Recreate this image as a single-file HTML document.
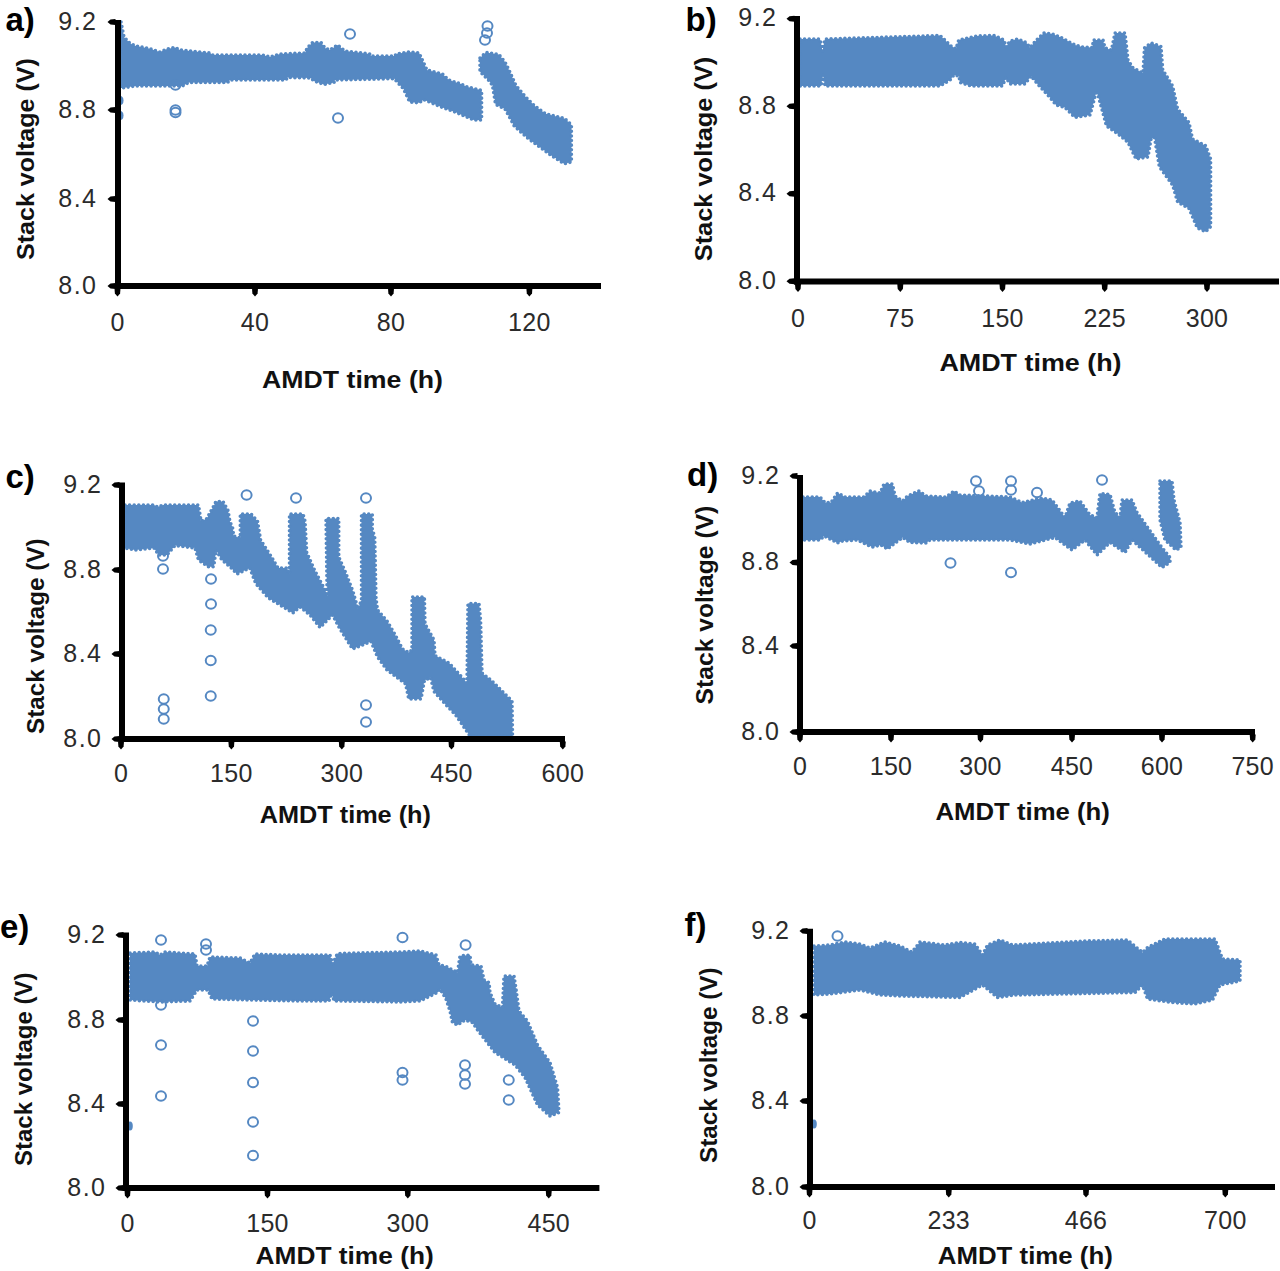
<!DOCTYPE html>
<html><head><meta charset="utf-8"><title>Stack voltage vs AMDT time</title>
<style>
html,body{margin:0;padding:0;background:#fff;overflow:hidden;}
svg{display:block;}
text{font-family:"Liberation Sans",sans-serif;}
.tl{font-size:25px;fill:#2b2b2b;}
.tt{font-size:24.5px;font-weight:bold;fill:#111;}
.pl{font-size:33px;font-weight:bold;fill:#000;}
</style></head><body>
<svg width="1280" height="1271" viewBox="0 0 1280 1271">
<rect width="1280" height="1271" fill="#fff"/>
<g>
<path d="M121 22 L124 37 L130 43.5 L136 46 L149 48.5 L160 52 L167 49 L175 47.5 L180 50 L210 53 L212.5 55 L262.5 55 L270 57 L280 54 L305 53 L307.5 47.5 L312.5 42.5 L321 42.5 L325 48 L330 50 L337.5 45 L345 51 L370 54 L371 56 L395 56 L396 54 L408 52 L419 52.8 L427 70 L442.5 74 L448.75 80 L461 84 L467.5 87 L481.6 90.3 L481.6 120 L473.75 120 L455 112 L442.5 107.5 L423.75 99.7 L419 102.8 L409.7 102 L403.4 88.75 L394 78.6 L380 79 L335 80 L334 82.5 L324 84.4 L314 81 L311 78 L287.5 77.5 L286 80 L230 80 L227.5 82.5 L188.75 82.5 L182.5 86 L165 86 L135 86 L122.5 88 L121 88 Z" fill="#5588C2"/>
<path d="M121 22 L124 37 L130 43.5 L136 46 L149 48.5 L160 52 L167 49 L175 47.5 L180 50 L210 53 L212.5 55 L262.5 55 L270 57 L280 54 L305 53 L307.5 47.5 L312.5 42.5 L321 42.5 L325 48 L330 50 L337.5 45 L345 51 L370 54 L371 56 L395 56 L396 54 L408 52 L419 52.8 L427 70 L442.5 74 L448.75 80 L461 84 L467.5 87 L481.6 90.3 L481.6 120 L473.75 120 L455 112 L442.5 107.5 L423.75 99.7 L419 102.8 L409.7 102 L403.4 88.75 L394 78.6 L380 79 L335 80 L334 82.5 L324 84.4 L314 81 L311 78 L287.5 77.5 L286 80 L230 80 L227.5 82.5 L188.75 82.5 L182.5 86 L165 86 L135 86 L122.5 88 L121 88 Z" fill="none" stroke="#5588C2" stroke-width="3.6" stroke-dasharray="0 4.6" stroke-linecap="round"/>
<path d="M480 58 L486 52.5 L498.75 54.4 L505 62 L509.7 71.6 L516 85.6 L525.3 96.6 L534.7 106 L545.6 113.75 L564.4 118.4 L571.4 124.7 L571.4 162 L564.4 163.75 L552 156 L528.4 138.75 L514.4 126.25 L505 109 L495.6 104.4 L492.5 85.6 L489.4 81 L480 71.6 Z" fill="#5588C2"/>
<path d="M480 58 L486 52.5 L498.75 54.4 L505 62 L509.7 71.6 L516 85.6 L525.3 96.6 L534.7 106 L545.6 113.75 L564.4 118.4 L571.4 124.7 L571.4 162 L564.4 163.75 L552 156 L528.4 138.75 L514.4 126.25 L505 109 L495.6 104.4 L492.5 85.6 L489.4 81 L480 71.6 Z" fill="none" stroke="#5588C2" stroke-width="3.6" stroke-dasharray="0 4.6" stroke-linecap="round"/>
<ellipse cx="120" cy="100.5" rx="3.5" ry="4.5" fill="#5588C2"/>
<ellipse cx="120" cy="115.5" rx="3.5" ry="4.5" fill="#5588C2"/>
<ellipse cx="175.5" cy="112.5" rx="5" ry="4.8" fill="none" stroke="#5588C2" stroke-width="2"/>
<ellipse cx="175.5" cy="110" rx="5" ry="4.8" fill="none" stroke="#5588C2" stroke-width="2"/>
<ellipse cx="175.5" cy="85" rx="5" ry="4.8" fill="none" stroke="#5588C2" stroke-width="2"/>
<ellipse cx="350" cy="34" rx="5" ry="4.8" fill="none" stroke="#5588C2" stroke-width="2"/>
<ellipse cx="338" cy="118" rx="5" ry="4.8" fill="none" stroke="#5588C2" stroke-width="2"/>
<ellipse cx="487.5" cy="26" rx="5" ry="4.8" fill="none" stroke="#5588C2" stroke-width="2"/>
<ellipse cx="485" cy="40" rx="5" ry="4.8" fill="none" stroke="#5588C2" stroke-width="2"/>
<ellipse cx="487" cy="33" rx="5" ry="4.8" fill="none" stroke="#5588C2" stroke-width="2"/>
<rect x="115" y="20" width="6" height="269" fill="#000"/>
<rect x="115" y="283" width="486" height="6" fill="#000"/>
<path d="M115.5 19 L110.5 19.4 L107.5 22 L110.5 24.6 L115.5 25 Z" fill="#000"/>
<text class="tl" x="97.5" y="29.5" text-anchor="end" letter-spacing="1.5">9.2</text>
<path d="M115.5 107 L110.5 107.4 L107.5 110 L110.5 112.6 L115.5 113 Z" fill="#000"/>
<text class="tl" x="97.5" y="117.5" text-anchor="end" letter-spacing="1.5">8.8</text>
<path d="M115.5 196 L110.5 196.4 L107.5 199 L110.5 201.6 L115.5 202 Z" fill="#000"/>
<text class="tl" x="97.5" y="206.5" text-anchor="end" letter-spacing="1.5">8.4</text>
<path d="M115.5 283 L110.5 283.4 L107.5 286 L110.5 288.6 L115.5 289 Z" fill="#000"/>
<text class="tl" x="97.5" y="293.5" text-anchor="end" letter-spacing="1.5">8.0</text>
<path d="M114.5 288.5 L114.9 293.5 L117.5 296.5 L120.1 293.5 L120.5 288.5 Z" fill="#000"/>
<text class="tl" x="117.5" y="331" text-anchor="middle" letter-spacing="0.3">0</text>
<path d="M252 288.5 L252.4 293.5 L255 296.5 L257.6 293.5 L258 288.5 Z" fill="#000"/>
<text class="tl" x="255" y="331" text-anchor="middle" letter-spacing="0.3">40</text>
<path d="M388 288.5 L388.4 293.5 L391 296.5 L393.6 293.5 L394 288.5 Z" fill="#000"/>
<text class="tl" x="391" y="331" text-anchor="middle" letter-spacing="0.3">80</text>
<path d="M526.4 288.5 L526.8 293.5 L529.4 296.5 L532 293.5 L532.4 288.5 Z" fill="#000"/>
<text class="tl" x="529.4" y="331" text-anchor="middle" letter-spacing="0.3">120</text>
<text class="tt" x="262" y="387.5" textLength="181" lengthAdjust="spacingAndGlyphs">AMDT time (h)</text>
<text class="tt" transform="translate(34 260) rotate(-90)" x="0" y="0" textLength="201.8" lengthAdjust="spacingAndGlyphs">Stack voltage (V)</text>
<text class="pl" x="5.5" y="30.6" font-size="36">a)</text>
</g>
<g>
<path d="M800 39 L820 39 L822.5 51 L825 39 L925 36 L940 35.5 L951 46 L956 48.75 L958.75 40 L977.5 36 L994 35.5 L1004 40 L1006 47 L1010 41 L1017.5 39 L1026 42.5 L1030 47.5 L1037.5 39 L1044 33 L1052.5 34 L1061 37.5 L1075 45 L1082.5 47 L1092.5 47.5 L1093.3 40 L1103 40 L1105 48 L1111.5 50 L1115 33 L1125 33 L1128 60 L1133 68 L1143 73 L1144.5 48 L1151 43 L1161 46.5 L1162.7 69.7 L1172.6 86 L1177.6 109 L1189 122.6 L1192.5 139 L1205.7 145.7 L1210.6 159 L1210.6 226.7 L1205.7 231.7 L1197.4 228 L1189 208.5 L1177.6 202 L1172.6 185 L1159.4 167 L1154.5 137.4 L1151 139 L1148 157 L1136 159 L1128 142.4 L1118 134 L1106.5 126 L1098 95 L1096 93 L1093 104 L1090 115 L1075 117.5 L1065 107.5 L1056 105 L1050 97.5 L1037.5 84 L1031 76 L1025 84 L1010 84 L1006 77.5 L1002.5 86 L971 86 L960 82.5 L959 76 L954 75 L950 80 L940 86 L825 86 L823 75 L821 86 L800 86 Z" fill="#5588C2"/>
<path d="M800 39 L820 39 L822.5 51 L825 39 L925 36 L940 35.5 L951 46 L956 48.75 L958.75 40 L977.5 36 L994 35.5 L1004 40 L1006 47 L1010 41 L1017.5 39 L1026 42.5 L1030 47.5 L1037.5 39 L1044 33 L1052.5 34 L1061 37.5 L1075 45 L1082.5 47 L1092.5 47.5 L1093.3 40 L1103 40 L1105 48 L1111.5 50 L1115 33 L1125 33 L1128 60 L1133 68 L1143 73 L1144.5 48 L1151 43 L1161 46.5 L1162.7 69.7 L1172.6 86 L1177.6 109 L1189 122.6 L1192.5 139 L1205.7 145.7 L1210.6 159 L1210.6 226.7 L1205.7 231.7 L1197.4 228 L1189 208.5 L1177.6 202 L1172.6 185 L1159.4 167 L1154.5 137.4 L1151 139 L1148 157 L1136 159 L1128 142.4 L1118 134 L1106.5 126 L1098 95 L1096 93 L1093 104 L1090 115 L1075 117.5 L1065 107.5 L1056 105 L1050 97.5 L1037.5 84 L1031 76 L1025 84 L1010 84 L1006 77.5 L1002.5 86 L971 86 L960 82.5 L959 76 L954 75 L950 80 L940 86 L825 86 L823 75 L821 86 L800 86 Z" fill="none" stroke="#5588C2" stroke-width="3.6" stroke-dasharray="0 4.6" stroke-linecap="round"/>
<rect x="794" y="16" width="6" height="268.5" fill="#000"/>
<rect x="794" y="278.5" width="485" height="6" fill="#000"/>
<path d="M794.5 15.75 L789.5 16.15 L786.5 18.75 L789.5 21.35 L794.5 21.75 Z" fill="#000"/>
<text class="tl" x="777.5" y="26.25" text-anchor="end" letter-spacing="1.5">9.2</text>
<path d="M794.5 103.25 L789.5 103.65 L786.5 106.25 L789.5 108.85 L794.5 109.25 Z" fill="#000"/>
<text class="tl" x="777.5" y="113.75" text-anchor="end" letter-spacing="1.5">8.8</text>
<path d="M794.5 190.75 L789.5 191.15 L786.5 193.75 L789.5 196.35 L794.5 196.75 Z" fill="#000"/>
<text class="tl" x="777.5" y="201.25" text-anchor="end" letter-spacing="1.5">8.4</text>
<path d="M794.5 278.25 L789.5 278.65 L786.5 281.25 L789.5 283.85 L794.5 284.25 Z" fill="#000"/>
<text class="tl" x="777.5" y="288.75" text-anchor="end" letter-spacing="1.5">8.0</text>
<path d="M795 284 L795.4 289 L798 292 L800.6 289 L801 284 Z" fill="#000"/>
<text class="tl" x="798" y="327" text-anchor="middle" letter-spacing="0.3">0</text>
<path d="M897.3 284 L897.7 289 L900.3 292 L902.9 289 L903.3 284 Z" fill="#000"/>
<text class="tl" x="900.3" y="327" text-anchor="middle" letter-spacing="0.3">75</text>
<path d="M999.5 284 L999.9 289 L1002.5 292 L1005.1 289 L1005.5 284 Z" fill="#000"/>
<text class="tl" x="1002.5" y="327" text-anchor="middle" letter-spacing="0.3">150</text>
<path d="M1101.7 284 L1102.1 289 L1104.7 292 L1107.3 289 L1107.7 284 Z" fill="#000"/>
<text class="tl" x="1104.7" y="327" text-anchor="middle" letter-spacing="0.3">225</text>
<path d="M1204 284 L1204.4 289 L1207 292 L1209.6 289 L1210 284 Z" fill="#000"/>
<text class="tl" x="1207" y="327" text-anchor="middle" letter-spacing="0.3">300</text>
<text class="tt" x="939.4" y="371.25" textLength="182.2" lengthAdjust="spacingAndGlyphs">AMDT time (h)</text>
<text class="tt" transform="translate(711.5 261.3) rotate(-90)" x="0" y="0" textLength="204.6" lengthAdjust="spacingAndGlyphs">Stack voltage (V)</text>
<text class="pl" x="685.5" y="31" font-size="36">b)</text>
</g>
<g>
<path d="M125 505 L154 505 L157.5 507 L163 505 L198.5 505 L201 521 L206.7 518.7 L213.75 506 L216 501.5 L223 501.5 L228 510.5 L230 522 L232.5 527 L233.7 536 L240.3 538 L240.3 514 L251 514 L257.5 521 L260.6 540 L271.5 557 L278 568 L287 568 L289.5 574 L289.5 514 L303 514 L305 521 L306.7 552.5 L315 571 L324 588 L328 596 L327 585 L326 518.5 L338.75 518.5 L338.75 557 L345 571 L353 591.5 L358 609 L361.5 600 L361.5 514 L372.3 514 L372.3 529 L374.7 537 L376 598 L377.5 610 L387 621 L394.7 634 L402.5 649 L408.75 652.5 L412 650 L412 597 L424.4 597 L425 624 L434 640 L435 655.6 L449 663 L459 674 L467 683 L468 603.5 L479 603.5 L480.6 621 L482 673 L491.5 680.6 L502.5 691.6 L512 701 L512.5 736 L470 736 L455.6 715 L448 707 L434 691.6 L430.6 677.5 L424.4 680.6 L421 699 L408.75 699 L405.6 684 L387 670 L377.5 657 L371 641.6 L352.5 649 L340 629 L332.5 615 L320 627.5 L310 615 L300 607 L293 613 L281 605.6 L268.4 598 L256 584 L249.7 568 L237 574 L230 566.7 L222 560 L216 550 L213.75 566.7 L208 566.7 L198.5 560 L195 548 L175 545.6 L167 555 L158.7 555 L154 548 L135 550 L125 548 Z" fill="#5588C2"/>
<path d="M125 505 L154 505 L157.5 507 L163 505 L198.5 505 L201 521 L206.7 518.7 L213.75 506 L216 501.5 L223 501.5 L228 510.5 L230 522 L232.5 527 L233.7 536 L240.3 538 L240.3 514 L251 514 L257.5 521 L260.6 540 L271.5 557 L278 568 L287 568 L289.5 574 L289.5 514 L303 514 L305 521 L306.7 552.5 L315 571 L324 588 L328 596 L327 585 L326 518.5 L338.75 518.5 L338.75 557 L345 571 L353 591.5 L358 609 L361.5 600 L361.5 514 L372.3 514 L372.3 529 L374.7 537 L376 598 L377.5 610 L387 621 L394.7 634 L402.5 649 L408.75 652.5 L412 650 L412 597 L424.4 597 L425 624 L434 640 L435 655.6 L449 663 L459 674 L467 683 L468 603.5 L479 603.5 L480.6 621 L482 673 L491.5 680.6 L502.5 691.6 L512 701 L512.5 736 L470 736 L455.6 715 L448 707 L434 691.6 L430.6 677.5 L424.4 680.6 L421 699 L408.75 699 L405.6 684 L387 670 L377.5 657 L371 641.6 L352.5 649 L340 629 L332.5 615 L320 627.5 L310 615 L300 607 L293 613 L281 605.6 L268.4 598 L256 584 L249.7 568 L237 574 L230 566.7 L222 560 L216 550 L213.75 566.7 L208 566.7 L198.5 560 L195 548 L175 545.6 L167 555 L158.7 555 L154 548 L135 550 L125 548 Z" fill="none" stroke="#5588C2" stroke-width="3.6" stroke-dasharray="0 4.6" stroke-linecap="round"/>
<ellipse cx="163" cy="556" rx="5" ry="4.8" fill="none" stroke="#5588C2" stroke-width="2"/>
<ellipse cx="163" cy="569" rx="5" ry="4.8" fill="none" stroke="#5588C2" stroke-width="2"/>
<ellipse cx="211" cy="579" rx="5" ry="4.8" fill="none" stroke="#5588C2" stroke-width="2"/>
<ellipse cx="211" cy="604" rx="5" ry="4.8" fill="none" stroke="#5588C2" stroke-width="2"/>
<ellipse cx="210.75" cy="630" rx="5" ry="4.8" fill="none" stroke="#5588C2" stroke-width="2"/>
<ellipse cx="210.75" cy="660.5" rx="5" ry="4.8" fill="none" stroke="#5588C2" stroke-width="2"/>
<ellipse cx="210.75" cy="696" rx="5" ry="4.8" fill="none" stroke="#5588C2" stroke-width="2"/>
<ellipse cx="163.75" cy="699" rx="5" ry="4.8" fill="none" stroke="#5588C2" stroke-width="2"/>
<ellipse cx="163.75" cy="709" rx="5" ry="4.8" fill="none" stroke="#5588C2" stroke-width="2"/>
<ellipse cx="163.75" cy="719" rx="5" ry="4.8" fill="none" stroke="#5588C2" stroke-width="2"/>
<ellipse cx="366" cy="705" rx="5" ry="4.8" fill="none" stroke="#5588C2" stroke-width="2"/>
<ellipse cx="366" cy="722" rx="5" ry="4.8" fill="none" stroke="#5588C2" stroke-width="2"/>
<ellipse cx="246.6" cy="495" rx="5" ry="4.8" fill="none" stroke="#5588C2" stroke-width="2"/>
<ellipse cx="296" cy="498" rx="5" ry="4.8" fill="none" stroke="#5588C2" stroke-width="2"/>
<ellipse cx="366" cy="498" rx="5" ry="4.8" fill="none" stroke="#5588C2" stroke-width="2"/>
<rect x="119" y="482.5" width="6" height="259.5" fill="#000"/>
<rect x="119" y="736" width="446" height="6" fill="#000"/>
<path d="M119.5 482 L114.5 482.4 L111.5 485 L114.5 487.6 L119.5 488 Z" fill="#000"/>
<text class="tl" x="102.5" y="492.5" text-anchor="end" letter-spacing="1.5">9.2</text>
<path d="M119.5 567 L114.5 567.4 L111.5 570 L114.5 572.6 L119.5 573 Z" fill="#000"/>
<text class="tl" x="102.5" y="577.5" text-anchor="end" letter-spacing="1.5">8.8</text>
<path d="M119.5 651 L114.5 651.4 L111.5 654 L114.5 656.6 L119.5 657 Z" fill="#000"/>
<text class="tl" x="102.5" y="661.5" text-anchor="end" letter-spacing="1.5">8.4</text>
<path d="M119.5 736 L114.5 736.4 L111.5 739 L114.5 741.6 L119.5 742 Z" fill="#000"/>
<text class="tl" x="102.5" y="746.5" text-anchor="end" letter-spacing="1.5">8.0</text>
<path d="M118 741.5 L118.4 746.5 L121 749.5 L123.6 746.5 L124 741.5 Z" fill="#000"/>
<text class="tl" x="121" y="782" text-anchor="middle" letter-spacing="0.3">0</text>
<path d="M228.4 741.5 L228.8 746.5 L231.4 749.5 L234 746.5 L234.4 741.5 Z" fill="#000"/>
<text class="tl" x="231.4" y="782" text-anchor="middle" letter-spacing="0.3">150</text>
<path d="M338.8 741.5 L339.2 746.5 L341.8 749.5 L344.4 746.5 L344.8 741.5 Z" fill="#000"/>
<text class="tl" x="341.8" y="782" text-anchor="middle" letter-spacing="0.3">300</text>
<path d="M448.5 741.5 L448.9 746.5 L451.5 749.5 L454.1 746.5 L454.5 741.5 Z" fill="#000"/>
<text class="tl" x="451.5" y="782" text-anchor="middle" letter-spacing="0.3">450</text>
<path d="M559.8 741.5 L560.2 746.5 L562.8 749.5 L565.4 746.5 L565.8 741.5 Z" fill="#000"/>
<text class="tl" x="562.8" y="782" text-anchor="middle" letter-spacing="0.3">600</text>
<text class="tt" x="259.7" y="823" textLength="171.3" lengthAdjust="spacingAndGlyphs">AMDT time (h)</text>
<text class="tt" transform="translate(43.5 734) rotate(-90)" x="0" y="0" textLength="195.6" lengthAdjust="spacingAndGlyphs">Stack voltage (V)</text>
<text class="pl" x="5.5" y="488" font-size="34">c)</text>
</g>
<g>
<path d="M803 497 L820 497 L825 502.5 L831 502.5 L837.5 493 L845 497 L864 497 L870 491 L880 493 L884 484 L892.5 484 L895 496 L902.5 501 L907.5 496 L919 491 L926 496 L946 497 L954 491 L960 495 L1010 497 L1022 502.5 L1042 498 L1052 500 L1065 517.5 L1070 503 L1080 501 L1090 515 L1097 517.5 L1100 493.5 L1110 494.5 L1115 512.5 L1120 517.5 L1122 500 L1132 500 L1137 512.5 L1160 545 L1170 557.5 L1170 562.5 L1162 567.5 L1132 540 L1125 552.5 L1110 542.5 L1097 555 L1085 540 L1072 550 L1055 537.5 L1030 544 L1010 540 L960 540 L930 540 L926 543 L910 542.5 L902.5 537.5 L892.5 545 L887.5 549 L881 545 L872.5 547 L867.5 545 L857.5 540 L842.5 541 L837.5 543 L834 541 L824 536 L820 540 L803 540 Z" fill="#5588C2"/>
<path d="M803 497 L820 497 L825 502.5 L831 502.5 L837.5 493 L845 497 L864 497 L870 491 L880 493 L884 484 L892.5 484 L895 496 L902.5 501 L907.5 496 L919 491 L926 496 L946 497 L954 491 L960 495 L1010 497 L1022 502.5 L1042 498 L1052 500 L1065 517.5 L1070 503 L1080 501 L1090 515 L1097 517.5 L1100 493.5 L1110 494.5 L1115 512.5 L1120 517.5 L1122 500 L1132 500 L1137 512.5 L1160 545 L1170 557.5 L1170 562.5 L1162 567.5 L1132 540 L1125 552.5 L1110 542.5 L1097 555 L1085 540 L1072 550 L1055 537.5 L1030 544 L1010 540 L960 540 L930 540 L926 543 L910 542.5 L902.5 537.5 L892.5 545 L887.5 549 L881 545 L872.5 547 L867.5 545 L857.5 540 L842.5 541 L837.5 543 L834 541 L824 536 L820 540 L803 540 Z" fill="none" stroke="#5588C2" stroke-width="3.6" stroke-dasharray="0 4.6" stroke-linecap="round"/>
<path d="M1160 481 L1172 481 L1174 500 L1180 522.5 L1181 547.5 L1176 550 L1165 540 L1160 520 Z" fill="#5588C2"/>
<path d="M1160 481 L1172 481 L1174 500 L1180 522.5 L1181 547.5 L1176 550 L1165 540 L1160 520 Z" fill="none" stroke="#5588C2" stroke-width="3.6" stroke-dasharray="0 4.6" stroke-linecap="round"/>
<ellipse cx="976" cy="481" rx="5" ry="4.8" fill="none" stroke="#5588C2" stroke-width="2"/>
<ellipse cx="979" cy="491" rx="5" ry="4.8" fill="none" stroke="#5588C2" stroke-width="2"/>
<ellipse cx="1011" cy="481" rx="5" ry="4.8" fill="none" stroke="#5588C2" stroke-width="2"/>
<ellipse cx="1011" cy="490" rx="5" ry="4.8" fill="none" stroke="#5588C2" stroke-width="2"/>
<ellipse cx="1037" cy="492.5" rx="5" ry="4.8" fill="none" stroke="#5588C2" stroke-width="2"/>
<ellipse cx="1011" cy="572.5" rx="5" ry="4.8" fill="none" stroke="#5588C2" stroke-width="2"/>
<ellipse cx="1102" cy="480" rx="5" ry="4.8" fill="none" stroke="#5588C2" stroke-width="2"/>
<ellipse cx="950.5" cy="563" rx="5" ry="4.8" fill="none" stroke="#5588C2" stroke-width="2"/>
<rect x="797" y="475" width="6" height="260" fill="#000"/>
<rect x="797" y="729" width="458" height="6" fill="#000"/>
<path d="M797.5 473 L792.5 473.4 L789.5 476 L792.5 478.6 L797.5 479 Z" fill="#000"/>
<text class="tl" x="780.5" y="483.5" text-anchor="end" letter-spacing="1.5">9.2</text>
<path d="M797.5 559.5 L792.5 559.9 L789.5 562.5 L792.5 565.1 L797.5 565.5 Z" fill="#000"/>
<text class="tl" x="780.5" y="570" text-anchor="end" letter-spacing="1.5">8.8</text>
<path d="M797.5 643 L792.5 643.4 L789.5 646 L792.5 648.6 L797.5 649 Z" fill="#000"/>
<text class="tl" x="780.5" y="653.5" text-anchor="end" letter-spacing="1.5">8.4</text>
<path d="M797.5 729 L792.5 729.4 L789.5 732 L792.5 734.6 L797.5 735 Z" fill="#000"/>
<text class="tl" x="780.5" y="739.5" text-anchor="end" letter-spacing="1.5">8.0</text>
<path d="M797 734.5 L797.4 739.5 L800 742.5 L802.6 739.5 L803 734.5 Z" fill="#000"/>
<text class="tl" x="800" y="775" text-anchor="middle" letter-spacing="0.3">0</text>
<path d="M888 734.5 L888.4 739.5 L891 742.5 L893.6 739.5 L894 734.5 Z" fill="#000"/>
<text class="tl" x="891" y="775" text-anchor="middle" letter-spacing="0.3">150</text>
<path d="M977.5 734.5 L977.9 739.5 L980.5 742.5 L983.1 739.5 L983.5 734.5 Z" fill="#000"/>
<text class="tl" x="980.5" y="775" text-anchor="middle" letter-spacing="0.3">300</text>
<path d="M1069 734.5 L1069.4 739.5 L1072 742.5 L1074.6 739.5 L1075 734.5 Z" fill="#000"/>
<text class="tl" x="1072" y="775" text-anchor="middle" letter-spacing="0.3">450</text>
<path d="M1159 734.5 L1159.4 739.5 L1162 742.5 L1164.6 739.5 L1165 734.5 Z" fill="#000"/>
<text class="tl" x="1162" y="775" text-anchor="middle" letter-spacing="0.3">600</text>
<path d="M1249.7 734.5 L1250.1 739.5 L1252.7 742.5 L1255.3 739.5 L1255.7 734.5 Z" fill="#000"/>
<text class="tl" x="1252.7" y="775" text-anchor="middle" letter-spacing="0.3">750</text>
<text class="tt" x="935.5" y="820" textLength="174.3" lengthAdjust="spacingAndGlyphs">AMDT time (h)</text>
<text class="tt" transform="translate(712.5 704.4) rotate(-90)" x="0" y="0" textLength="198.7" lengthAdjust="spacingAndGlyphs">Stack voltage (V)</text>
<text class="pl" x="687" y="486" font-size="35">d)</text>
</g>
<g>
<path d="M130 953 L155 952 L160 955 L165 952 L195 954 L197 966 L207 966 L210 957 L240 958 L250 963 L255 954 L280 955 L300 955 L330 955 L332.5 964 L337.5 953.5 L400 952 L417.5 951 L420 951 L436 955 L439 965 L445 966 L457.5 972.5 L460 956 L470 955 L471 965 L481 966 L484 980 L489 982.5 L490 992.5 L495 1004 L502.5 1007.5 L504 976 L514 976 L516 989 L519 1011 L527.5 1021 L537.5 1045 L550 1062.5 L557.5 1087.5 L559 1112.5 L550 1116 L537.5 1105 L525 1077.5 L515 1065 L495 1052.5 L477.5 1030 L472.5 1022.5 L465 1020 L457.5 1025 L452.5 1022.5 L450 1011 L446 999 L440 989 L437.5 992.5 L420 1001 L400 1002 L340 1001 L334 1001 L332 993 L329 1001 L300 1001 L250 1000 L212 999 L208 990 L197 990 L190 1001 L160 1002 L130 1000 Z" fill="#5588C2"/>
<path d="M130 953 L155 952 L160 955 L165 952 L195 954 L197 966 L207 966 L210 957 L240 958 L250 963 L255 954 L280 955 L300 955 L330 955 L332.5 964 L337.5 953.5 L400 952 L417.5 951 L420 951 L436 955 L439 965 L445 966 L457.5 972.5 L460 956 L470 955 L471 965 L481 966 L484 980 L489 982.5 L490 992.5 L495 1004 L502.5 1007.5 L504 976 L514 976 L516 989 L519 1011 L527.5 1021 L537.5 1045 L550 1062.5 L557.5 1087.5 L559 1112.5 L550 1116 L537.5 1105 L525 1077.5 L515 1065 L495 1052.5 L477.5 1030 L472.5 1022.5 L465 1020 L457.5 1025 L452.5 1022.5 L450 1011 L446 999 L440 989 L437.5 992.5 L420 1001 L400 1002 L340 1001 L334 1001 L332 993 L329 1001 L300 1001 L250 1000 L212 999 L208 990 L197 990 L190 1001 L160 1002 L130 1000 Z" fill="none" stroke="#5588C2" stroke-width="3.6" stroke-dasharray="0 4.6" stroke-linecap="round"/>
<ellipse cx="130" cy="1126" rx="2.8" ry="4.5" fill="#5588C2"/>
<ellipse cx="161" cy="940" rx="5" ry="4.8" fill="none" stroke="#5588C2" stroke-width="2"/>
<ellipse cx="206" cy="944" rx="5" ry="4.8" fill="none" stroke="#5588C2" stroke-width="2"/>
<ellipse cx="206" cy="950" rx="5" ry="4.8" fill="none" stroke="#5588C2" stroke-width="2"/>
<ellipse cx="253" cy="1021" rx="5" ry="4.8" fill="none" stroke="#5588C2" stroke-width="2"/>
<ellipse cx="161" cy="1045" rx="5" ry="4.8" fill="none" stroke="#5588C2" stroke-width="2"/>
<ellipse cx="253" cy="1051" rx="5" ry="4.8" fill="none" stroke="#5588C2" stroke-width="2"/>
<ellipse cx="161" cy="1005" rx="5" ry="4.8" fill="none" stroke="#5588C2" stroke-width="2"/>
<ellipse cx="161" cy="1096" rx="5" ry="4.8" fill="none" stroke="#5588C2" stroke-width="2"/>
<ellipse cx="253" cy="1082.5" rx="5" ry="4.8" fill="none" stroke="#5588C2" stroke-width="2"/>
<ellipse cx="253" cy="1122" rx="5" ry="4.8" fill="none" stroke="#5588C2" stroke-width="2"/>
<ellipse cx="253" cy="1155.5" rx="5" ry="4.8" fill="none" stroke="#5588C2" stroke-width="2"/>
<ellipse cx="402.5" cy="937.5" rx="5" ry="4.8" fill="none" stroke="#5588C2" stroke-width="2"/>
<ellipse cx="465.6" cy="945" rx="5" ry="4.8" fill="none" stroke="#5588C2" stroke-width="2"/>
<ellipse cx="402.5" cy="1072.5" rx="5" ry="4.8" fill="none" stroke="#5588C2" stroke-width="2"/>
<ellipse cx="402.5" cy="1080" rx="5" ry="4.8" fill="none" stroke="#5588C2" stroke-width="2"/>
<ellipse cx="465" cy="1065" rx="5" ry="4.8" fill="none" stroke="#5588C2" stroke-width="2"/>
<ellipse cx="465" cy="1075" rx="5" ry="4.8" fill="none" stroke="#5588C2" stroke-width="2"/>
<ellipse cx="465" cy="1084" rx="5" ry="4.8" fill="none" stroke="#5588C2" stroke-width="2"/>
<ellipse cx="508.75" cy="1080" rx="5" ry="4.8" fill="none" stroke="#5588C2" stroke-width="2"/>
<ellipse cx="508.75" cy="1100" rx="5" ry="4.8" fill="none" stroke="#5588C2" stroke-width="2"/>
<rect x="123" y="932.5" width="6" height="258.5" fill="#000"/>
<rect x="123" y="1185" width="476.4" height="6" fill="#000"/>
<path d="M123.5 932 L118.5 932.4 L115.5 935 L118.5 937.6 L123.5 938 Z" fill="#000"/>
<text class="tl" x="106.5" y="942.5" text-anchor="end" letter-spacing="1.5">9.2</text>
<path d="M123.5 1017 L118.5 1017.4 L115.5 1020 L118.5 1022.6 L123.5 1023 Z" fill="#000"/>
<text class="tl" x="106.5" y="1027.5" text-anchor="end" letter-spacing="1.5">8.8</text>
<path d="M123.5 1101 L118.5 1101.4 L115.5 1104 L118.5 1106.6 L123.5 1107 Z" fill="#000"/>
<text class="tl" x="106.5" y="1111.5" text-anchor="end" letter-spacing="1.5">8.4</text>
<path d="M123.5 1185 L118.5 1185.4 L115.5 1188 L118.5 1190.6 L123.5 1191 Z" fill="#000"/>
<text class="tl" x="106.5" y="1195.5" text-anchor="end" letter-spacing="1.5">8.0</text>
<path d="M124.5 1190.5 L124.9 1195.5 L127.5 1198.5 L130.1 1195.5 L130.5 1190.5 Z" fill="#000"/>
<text class="tl" x="127.5" y="1232" text-anchor="middle" letter-spacing="0.3">0</text>
<path d="M264.5 1190.5 L264.9 1195.5 L267.5 1198.5 L270.1 1195.5 L270.5 1190.5 Z" fill="#000"/>
<text class="tl" x="267.5" y="1232" text-anchor="middle" letter-spacing="0.3">150</text>
<path d="M404.8 1190.5 L405.2 1195.5 L407.8 1198.5 L410.4 1195.5 L410.8 1190.5 Z" fill="#000"/>
<text class="tl" x="407.8" y="1232" text-anchor="middle" letter-spacing="0.3">300</text>
<path d="M545.75 1190.5 L546.15 1195.5 L548.75 1198.5 L551.35 1195.5 L551.75 1190.5 Z" fill="#000"/>
<text class="tl" x="548.75" y="1232" text-anchor="middle" letter-spacing="0.3">450</text>
<text class="tt" x="255.6" y="1264" textLength="178.15" lengthAdjust="spacingAndGlyphs">AMDT time (h)</text>
<text class="tt" transform="translate(31.5 1166) rotate(-90)" x="0" y="0" textLength="193.5" lengthAdjust="spacingAndGlyphs">Stack voltage (V)</text>
<text class="pl" x="0" y="938" font-size="35">e)</text>
</g>
<g>
<path d="M814 946 L830 945 L845 942 L860 944 L870 948 L885 942 L900 946 L912 952 L920 942 L945 945 L960 942.5 L975 944 L982.5 955 L987.5 945 L1000 940 L1012.5 945 L1085 941 L1127.5 940 L1142.5 952.5 L1147.5 947.5 L1165 939 L1215 939 L1222.5 959 L1240 960 L1240 981 L1220 985 L1212.5 1000 L1195 1004 L1172.5 1002.5 L1147.5 999 L1142.5 985 L1135 992.5 L1015 995 L997.5 997.5 L982.5 985 L960 997.5 L900 996 L880 995 L860 990 L830 994 L814 995 Z" fill="#5588C2"/>
<path d="M814 946 L830 945 L845 942 L860 944 L870 948 L885 942 L900 946 L912 952 L920 942 L945 945 L960 942.5 L975 944 L982.5 955 L987.5 945 L1000 940 L1012.5 945 L1085 941 L1127.5 940 L1142.5 952.5 L1147.5 947.5 L1165 939 L1215 939 L1222.5 959 L1240 960 L1240 981 L1220 985 L1212.5 1000 L1195 1004 L1172.5 1002.5 L1147.5 999 L1142.5 985 L1135 992.5 L1015 995 L997.5 997.5 L982.5 985 L960 997.5 L900 996 L880 995 L860 990 L830 994 L814 995 Z" fill="none" stroke="#5588C2" stroke-width="3.6" stroke-dasharray="0 4.6" stroke-linecap="round"/>
<ellipse cx="814" cy="1124" rx="2.8" ry="4.5" fill="#5588C2"/>
<ellipse cx="837.5" cy="936" rx="5" ry="4.8" fill="none" stroke="#5588C2" stroke-width="2"/>
<rect x="807" y="928.75" width="6" height="261.25" fill="#000"/>
<rect x="807" y="1184" width="468" height="6" fill="#000"/>
<path d="M807.5 928 L802.5 928.4 L799.5 931 L802.5 933.6 L807.5 934 Z" fill="#000"/>
<text class="tl" x="790.5" y="938.5" text-anchor="end" letter-spacing="1.5">9.2</text>
<path d="M807.5 1013 L802.5 1013.4 L799.5 1016 L802.5 1018.6 L807.5 1019 Z" fill="#000"/>
<text class="tl" x="790.5" y="1023.5" text-anchor="end" letter-spacing="1.5">8.8</text>
<path d="M807.5 1098 L802.5 1098.4 L799.5 1101 L802.5 1103.6 L807.5 1104 Z" fill="#000"/>
<text class="tl" x="790.5" y="1108.5" text-anchor="end" letter-spacing="1.5">8.4</text>
<path d="M807.5 1184 L802.5 1184.4 L799.5 1187 L802.5 1189.6 L807.5 1190 Z" fill="#000"/>
<text class="tl" x="790.5" y="1194.5" text-anchor="end" letter-spacing="1.5">8.0</text>
<path d="M806.5 1189.5 L806.9 1194.5 L809.5 1197.5 L812.1 1194.5 L812.5 1189.5 Z" fill="#000"/>
<text class="tl" x="809.5" y="1228.5" text-anchor="middle" letter-spacing="0.3">0</text>
<path d="M945.75 1189.5 L946.15 1194.5 L948.75 1197.5 L951.35 1194.5 L951.75 1189.5 Z" fill="#000"/>
<text class="tl" x="948.75" y="1228.5" text-anchor="middle" letter-spacing="0.3">233</text>
<path d="M1083 1189.5 L1083.4 1194.5 L1086 1197.5 L1088.6 1194.5 L1089 1189.5 Z" fill="#000"/>
<text class="tl" x="1086" y="1228.5" text-anchor="middle" letter-spacing="0.3">466</text>
<path d="M1222.3 1189.5 L1222.7 1194.5 L1225.3 1197.5 L1227.9 1194.5 L1228.3 1189.5 Z" fill="#000"/>
<text class="tl" x="1225.3" y="1228.5" text-anchor="middle" letter-spacing="0.3">700</text>
<text class="tt" x="937.8" y="1264" textLength="175" lengthAdjust="spacingAndGlyphs">AMDT time (h)</text>
<text class="tt" transform="translate(716.5 1163) rotate(-90)" x="0" y="0" textLength="195.6" lengthAdjust="spacingAndGlyphs">Stack voltage (V)</text>
<text class="pl" x="684.5" y="936" font-size="35">f)</text>
</g>
</svg>
</body></html>
